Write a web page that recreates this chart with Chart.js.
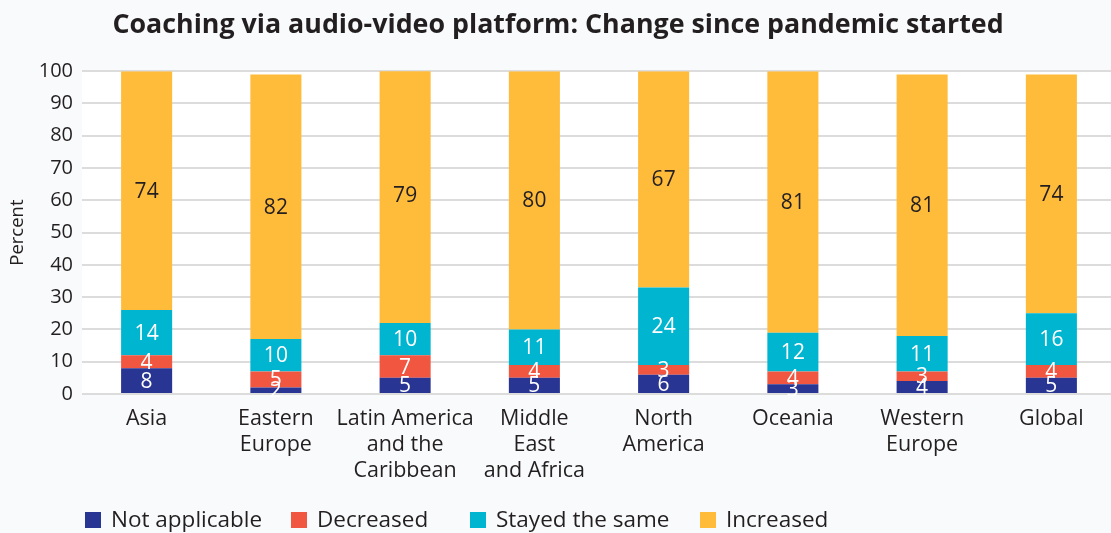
<!DOCTYPE html>
<html>
<head>
<meta charset="utf-8">
<title>Coaching via audio-video platform</title>
<script src="https://cdn.jsdelivr.net/npm/chart.js@4/dist/chart.umd.min.js"></script>
<style>
    html, body { margin: 0; padding: 0; background: #f9fafc; overflow: hidden; }
    #wrap { width: 1116px; height: 533px; position: relative; }
</style>
</head>
<body>
<div id="wrap"><canvas id="chart"></canvas></div>
<script>
// Survey regions (multi-line tick labels)
var regions = [
    ['Asia'],
    ['Eastern', 'Europe'],
    ['Latin America', 'and the', 'Caribbean'],
    ['Middle', 'East', 'and Africa'],
    ['North', 'America'],
    ['Oceania'],
    ['Western', 'Europe'],
    ['Global']
];

// Share of respondents, percent
var notApplicable = [8, 2, 5, 5, 6, 3, 4, 5];
var decreased     = [4, 5, 7, 4, 3, 4, 3, 4];
var stayedSame    = [14, 10, 10, 11, 24, 12, 11, 16];
var increased     = [74, 82, 79, 80, 67, 81, 81, 74];

var seriesNames  = ['Not applicable', 'Decreased', 'Stayed the same', 'Increased'];
var seriesColors = ['#283593', '#f15641', '#00b5d0', '#ffbc3b'];
var seriesValues = [notApplicable, decreased, stayedSame, increased];

var FONT = '"Open Sans", sans-serif';
var TEXT = '#231f20';

/** White fill behind the plot area only */
var plotBackground = {
    id: 'plotBackground',
    beforeDraw: function(chart) {
        var a = chart.chartArea, ctx = chart.ctx;
        ctx.save();
        ctx.fillStyle = '#ffffff';
        ctx.fillRect(a.left, a.top, a.right - a.left, a.bottom - a.top);
        ctx.restore();
    }
};

/** Value labels centred in every stacked segment */
var segmentLabels = {
    id: 'segmentLabels',
    afterDatasetsDraw: function(chart) {
        var ctx = chart.ctx;
        ctx.save();
        ctx.font = '21px ' + FONT;
        ctx.textAlign = 'center';
        ctx.textBaseline = 'middle';
        chart.data.datasets.forEach(function(ds, i) {
            ctx.fillStyle = i === 3 ? TEXT : '#ffffff';
            chart.getDatasetMeta(i).data.forEach(function(bar, j) {
                var c = bar.getCenterPoint();
                ctx.fillText(String(ds.data[j]), c.x, c.y + 1);
            });
        });
        ctx.restore();
    }
};

/** Legend row along the bottom edge */
var legendX = [85, 291, 470, 700];
var bottomLegend = {
    id: 'bottomLegend',
    afterDraw: function(chart) {
        var ctx = chart.ctx, y = 520;
        ctx.save();
        ctx.font = '22.5px ' + FONT;
        ctx.textBaseline = 'middle';
        chart.data.datasets.forEach(function(ds, i) {
            var x = legendX[i];
            ctx.fillStyle = ds.backgroundColor;
            ctx.fillRect(x, y - 8, 16, 16);
            ctx.fillStyle = TEXT;
            ctx.fillText(ds.label, x + 26, y + 1);
        });
        ctx.restore();
    }
};

var datasets = seriesNames.map(function(name, i) {
    return {
        label: name,
        data: seriesValues[i],
        backgroundColor: seriesColors[i],
        borderWidth: 0,
        barPercentage: 0.395,
        categoryPercentage: 1.0
    };
});

new Chart(document.getElementById('chart'), {
    type: 'bar',
    data: { labels: regions, datasets: datasets },
    plugins: [plotBackground, segmentLabels, bottomLegend],
    options: {
        responsive: true,
        maintainAspectRatio: false,
        animation: false,
        layout: { padding: 0 },
        plugins: {
            legend: { display: false },
            tooltip: { enabled: false },
            title: {
                display: true,
                text: 'Coaching via audio-video platform: Change since pandemic started',
                color: TEXT,
                font: { family: FONT, size: 26.8, weight: 'bold' },
                padding: { top: 9, bottom: 30 }
            }
        },
        scales: {
            x: {
                stacked: true,
                grid: { display: false },
                border: { display: false },
                ticks: {
                    color: TEXT,
                    font: { family: FONT, size: 21.5, lineHeight: 1.21 },
                    padding: 4,
                    maxRotation: 0,
                    autoSkip: false
                },
                afterFit: function(scale) { scale.height = 139; }
            },
            y: {
                stacked: true,
                min: 0,
                max: 100,
                grid: { color: '#dcdcdc', lineWidth: 2, drawTicks: false },
                border: { display: false },
                ticks: {
                    stepSize: 10,
                    color: TEXT,
                    font: { family: FONT, size: 20 },
                    padding: 9
                },
                title: {
                    display: true,
                    text: 'Percent',
                    color: TEXT,
                    font: { family: FONT, size: 18.5 },
                    padding: { top: 7, bottom: 0 }
                },
                afterFit: function(scale) { scale.width = 82; }
            }
        }
    }
});
</script>
</body>
</html>
